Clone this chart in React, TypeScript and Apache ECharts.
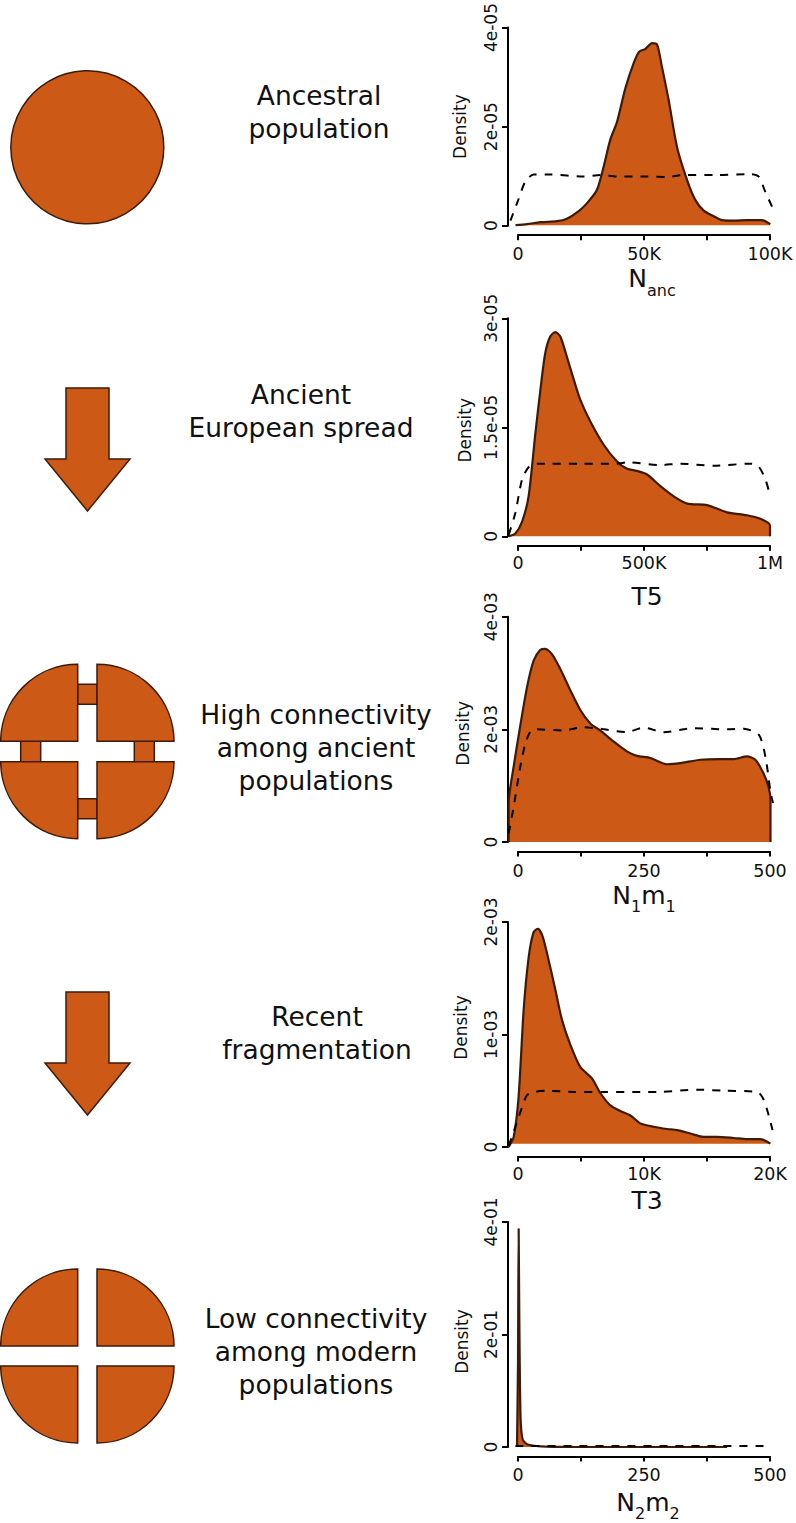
import React, { useEffect, useRef } from "react";
import * as echarts from "echarts";

const ORANGE = "#CC5A16";
const EDGE = "#3E1B08";
const FONT = "'DejaVu Sans'";

// x in thousands, y in units of 1e-5
const nancPosterior = [[-1,0.01],[3.6,0.03],[8.9,0.07],[15.5,0.09],[19.4,0.14],[24.1,0.29],[27.4,0.45],[31.3,0.71],[34,1.18],[36.6,1.71],[39.3,2.07],[42.6,2.74],[45.9,3.24],[48.1,3.47],[50.5,3.52],[53.2,3.64],[55.2,3.61],[57.1,3.17],[59.8,2.5],[63.1,1.57],[67.1,0.91],[70.4,0.51],[73.7,0.3],[77.6,0.19],[81,0.11],[85.6,0.1],[90.9,0.11],[96.8,0.11],[100.1,0.03]];
const nancPrior = [[-3,0.1],[0.3,0.54],[2.9,0.88],[6.2,1.02],[12.8,1.02],[26,0.98],[32.7,1.01],[39.3,0.98],[51.2,0.98],[59.1,0.97],[65.7,1.01],[79,1.01],[92.2,1.03],[95.5,0.98],[98.1,0.68],[100.8,0.38]];

// x in thousands, y in units of 1e-5
const t5Posterior = [[-37,0],[-10.6,0.04],[16,0.2],[42,0.55],[69,1.42],[89,2.02],[108,2.52],[128,2.75],[148,2.81],[168,2.75],[194,2.47],[221,2.16],[247,1.88],[287,1.58],[340,1.26],[393,1.03],[433,0.93],[472,0.9],[512,0.85],[565,0.69],[618,0.55],[671,0.45],[750,0.43],[829,0.33],[909,0.29],[962,0.24],[1000,0.15],[1000,0]];
const t5Prior = [[-37,0.02],[-10.6,0.32],[16,0.78],[42,0.95],[75,1],[128,1],[247,1],[393,1],[433,1.02],[565,0.98],[645,1],[776,0.97],[922,1],[955,0.96],[982,0.78],[995,0.63]];

// y in units of 1e-3
const n1m1Posterior = [[-18.5,0],[-18.5,0.69],[-8.6,1.34],[4.6,2.07],[17.9,2.75],[31,3.22],[44,3.41],[54,3.43],[67,3.34],[84,3.07],[104,2.69],[124,2.34],[144,2.1],[163,1.98],[190,1.78],[216,1.61],[236,1.53],[263,1.49],[296,1.38],[322,1.4],[362,1.46],[401,1.47],[428,1.47],[454,1.52],[471,1.46],[487,1.22],[497,0.98],[501,0.75],[501,0]];
const n1m1Prior = [[-18.5,0.15],[-8.6,0.63],[4.6,1.34],[14.6,1.75],[24.5,1.96],[34.4,2],[90.6,1.98],[130,2.04],[163,2.01],[216,1.95],[249,2.03],[289,1.95],[349,2.02],[415,2],[448,2.01],[478,1.9],[491,1.51],[501,0.89],[506,0.69]];

// x in thousands, y in units of 1e-3
const t3Posterior = [[-0.74,0],[-0.34,0.09],[0.05,0.45],[0.45,1.22],[0.85,1.69],[1.24,1.91],[1.59,1.94],[1.96,1.87],[2.43,1.66],[2.96,1.4],[3.49,1.13],[4.15,0.91],[4.95,0.71],[5.87,0.61],[6.53,0.48],[7.33,0.37],[8.12,0.32],[8.92,0.28],[9.71,0.21],[10.77,0.18],[11.83,0.16],[12.62,0.15],[13.68,0.12],[14.74,0.09],[15.79,0.09],[17.12,0.08],[18.17,0.07],[19.23,0.07],[20.03,0.03]];
const t3Prior = [[-0.74,0.01],[-0.21,0.18],[0.19,0.31],[0.71,0.46],[1.38,0.49],[2.3,0.5],[4.42,0.49],[6.8,0.49],[9.71,0.49],[11.3,0.49],[14.2,0.51],[16.3,0.5],[19,0.49],[19.5,0.42],[19.9,0.28],[20.2,0.15]];

// y in units of 1e-1
const n2m2Posterior = [[-2,0],[0,1.5],[1.3,3.88],[2.5,2.4],[5,0.55],[9,0.14],[18,0.05],[45,0.012],[110,0.002],[415,0]];
const n2m2Prior = [[-5,0.02],[100,0.02],[200,0.02],[300,0.02],[400,0.02],[500,0.02]];

const panels = [
  { top: 25, bottom: 225.7, xMax: 100, xStep: 25, xLabels: { 0: "0", 50: "50K", 100: "100K" }, labelMargin: 9.5, yMax: 4, yStep: 2, yLabels: ["0", "2e-05", "4e-05"], name: "{a|N}{b|anc}", nameGap: 31, nameShift: 8, densityGap: 40, densityShift: 0, origin: 0.01, post: nancPosterior, prior: nancPrior },
  { top: 318.3, bottom: 536.3, xMax: 1000, xStep: 250, xLabels: { 0: "0", 500: "500K", 1000: "1M" }, labelMargin: 8, yMax: 3, yStep: 1.5, yLabels: ["0", "1.5e-05", "3e-05"], name: "{a|T5}", nameGap: 38, nameShift: 3, densityGap: 35, densityShift: -3, origin: 0, post: t5Posterior, prior: t5Prior },
  { top: 616.7, bottom: 842, xMax: 500, xStep: 125, xLabels: { 0: "0", 250: "250", 500: "500" }, labelMargin: 10, yMax: 4, yStep: 2, yLabels: ["0", "2e-03", "4e-03"], name: "{a|N}{b|1}{a|m}{b|1}", nameGap: 31, nameShift: 0, densityGap: 37, densityShift: -4, origin: 0, post: n1m1Posterior, prior: n1m1Prior },
  { top: 922, bottom: 1147, xMax: 20, xStep: 5, xLabels: { 0: "0", 10: "10K", 20: "20K" }, labelMargin: 8, yMax: 2, yStep: 1, yLabels: ["0", "1e-03", "2e-03"], name: "{a|T3}", nameGap: 31, nameShift: 3, densityGap: 39, densityShift: 7, origin: 0.03, post: t3Posterior, prior: t3Prior },
  { top: 1222, bottom: 1447, xMax: 500, xStep: 125, xLabels: { 0: "0", 250: "250", 500: "500" }, labelMargin: 9, yMax: 4, yStep: 2, yLabels: ["0", "2e-01", "4e-01"], name: "{a|N}{b|2}{a|m}{b|2}", nameGap: 33, nameShift: 4, densityGap: 38, densityShift: -7, origin: 0, post: n2m2Posterior, prior: n2m2Prior },
];

const captions = [
  { text: "Ancestral\npopulation", x: 319, y: 111.5 },
  { text: "Ancient\nEuropean spread", x: 301, y: 410.5 },
  { text: "High connectivity\namong ancient\npopulations", x: 316, y: 747.5 },
  { text: "Recent\nfragmentation", x: 317, y: 1032.5 },
  { text: "Low connectivity\namong modern\npopulations", x: 316, y: 1351.5 },
];

const shapeStyle = { fill: ORANGE, stroke: EDGE, lineWidth: 1.5 };

function arrow(top: number, shoulder: number, tip: number) {
  return {
    type: "polygon",
    shape: { points: [[66, top], [109, top], [109, shoulder], [130, shoulder], [87.5, tip], [45, shoulder], [66, shoulder]] },
    style: shapeStyle,
  };
}

function quarters(upperY: number, lowerY: number) {
  const r = 77;
  const q = (cx: number, cy: number, a: number) => ({
    type: "sector",
    shape: { cx, cy, r, r0: 0, startAngle: a, endAngle: a + Math.PI / 2, clockwise: true },
    style: shapeStyle,
  });
  return [q(77.7, upperY, Math.PI), q(97, upperY, 1.5 * Math.PI), q(97, lowerY, 0), q(77.7, lowerY, 0.5 * Math.PI)];
}

function bridge(x: number, y: number, w: number, h: number) {
  return { type: "rect", shape: { x, y, width: w, height: h }, style: shapeStyle };
}

// Axes live on a grid spanning 518-770; the curves run slightly past both ends,
// so they are drawn on a hidden, wider grid with the same vertical scale.
const AXIS_LEFT = 518;
const AXIS_WIDTH = 252;
const DATA_LEFT = 504;
const DATA_RIGHT = 776;

export default function App() {
  const ref = useRef<HTMLDivElement>(null);
  useEffect(() => {
    const chart = echarts.init(ref.current!, undefined, { renderer: "svg" });
    const graphic: any[] = [
      { type: "circle", shape: { cx: 87.3, cy: 147.3, r: 76.5 }, style: shapeStyle },
      arrow(388, 459, 511),
      bridge(77.7, 684.3, 19.3, 20),
      bridge(77.7, 798.7, 19.3, 20),
      bridge(20.7, 741.3, 20, 20.4),
      bridge(134.3, 741.3, 20, 20.4),
      ...quarters(741.3, 761.7),
      arrow(992, 1063, 1115),
      ...quarters(1346, 1366),
      ...captions.map((c) => ({
        type: "text",
        x: c.x,
        y: c.y,
        style: { text: c.text, fontFamily: FONT, fontSize: 26.5, lineHeight: 33, fill: "#111", align: "center", verticalAlign: "middle" },
      })),
    ];
    const n = panels.length;
    chart.setOption({
      animation: false,
      graphic,
      grid: [
        ...panels.map((p) => ({ left: AXIS_LEFT, width: AXIS_WIDTH, top: p.top, height: p.bottom - p.top })),
        ...panels.map((p) => ({ left: DATA_LEFT, width: DATA_RIGHT - DATA_LEFT, top: p.top, height: p.bottom - p.top })),
      ],
      xAxis: [
        ...panels.map((p, i) => ({
          gridIndex: i,
          type: "value",
          min: 0,
          max: p.xMax,
          interval: p.xStep,
          offset: 9.5,
          splitLine: { show: false },
          axisLine: { show: true, onZero: false, lineStyle: { color: "#000", width: 2 } },
          axisTick: { show: true, length: 5, lineStyle: { color: "#000", width: 2 } },
          axisLabel: {
            color: "#111", fontFamily: FONT, fontSize: 17.5, margin: p.labelMargin,
            customValues: Object.keys(p.xLabels).map(Number),
            formatter: (v: number) => (p.xLabels as any)[v],
          },
          name: p.name,
          nameLocation: "middle",
          nameGap: p.nameGap,
          nameTextStyle: {
            padding: [0, 0, 0, p.nameShift * 2],
            rich: {
              a: { fontFamily: FONT, fontSize: 25, color: "#111", lineHeight: 32, verticalAlign: "top" },
              b: { fontFamily: FONT, fontSize: 16, color: "#111", lineHeight: 16, verticalAlign: "bottom" },
            },
          },
        })),
        ...panels.map((p, i) => ({
          gridIndex: n + i,
          type: "value",
          show: false,
          min: (-(AXIS_LEFT - DATA_LEFT) / AXIS_WIDTH) * p.xMax,
          max: ((DATA_RIGHT - AXIS_LEFT) / AXIS_WIDTH) * p.xMax,
          splitLine: { show: false },
        })),
      ],
      yAxis: [
        ...panels.map((p, i) => ({
          gridIndex: i,
          type: "value",
          min: 0,
          max: p.yMax,
          interval: p.yStep,
          offset: 10,
          splitLine: { show: false },
          axisLine: { show: true, onZero: false, lineStyle: { color: "#000", width: 2 } },
          axisTick: { show: true, length: 6, lineStyle: { color: "#000", width: 2 } },
          axisLabel: {
            color: "#111", fontFamily: FONT, fontSize: 17, margin: 9, rotate: 90,
            formatter: (_v: number, idx: number) => p.yLabels[idx],
          },
          name: "Density",
          nameLocation: "middle",
          nameRotate: 90,
          nameGap: p.densityGap,
          nameTextStyle: {
            color: "#111", fontFamily: FONT, fontSize: 17,
            padding: [0, p.densityShift < 0 ? -2 * p.densityShift : 0, 0, p.densityShift > 0 ? 2 * p.densityShift : 0],
          },
        })),
        ...panels.map((p, i) => ({
          gridIndex: n + i,
          type: "value",
          show: false,
          min: 0,
          max: p.yMax,
          splitLine: { show: false },
        })),
      ],
      series: panels.flatMap((p, i) => [
        {
          type: "line",
          xAxisIndex: n + i,
          yAxisIndex: n + i,
          data: p.post,
          clip: false,
          symbol: "none",
          smooth: 0.25,
          lineStyle: { color: EDGE, width: 2.2 },
          areaStyle: { color: ORANGE, opacity: 1, origin: p.origin },
          z: 2,
        },
        {
          type: "line",
          xAxisIndex: n + i,
          yAxisIndex: n + i,
          data: p.prior,
          clip: false,
          symbol: "none",
          smooth: 0.25,
          lineStyle: { color: "#000", width: 2, type: [8, 8] },
          z: 3,
        },
      ]),
    });
    return () => chart.dispose();
  }, []);
  return <div ref={ref} style={{ position: "absolute", left: 0, top: 0, width: 796, height: 1523 }} />;
}
